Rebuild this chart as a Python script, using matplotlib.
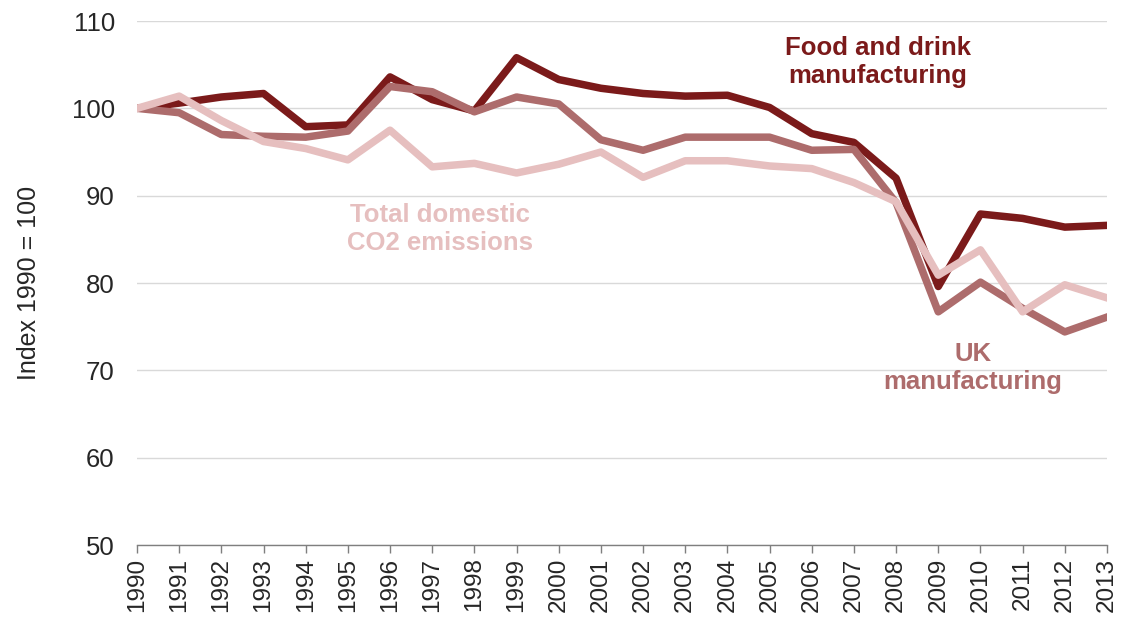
import matplotlib.pyplot as plt

years = list(range(1990, 2014))

food_drink = [100.0, 100.6, 101.3, 101.7, 97.9, 98.1, 103.6, 101.0, 99.7, 105.8,
              103.3, 102.3, 101.7, 101.4, 101.5, 100.1, 97.1, 96.1, 92.0, 79.6,
              87.9, 87.4, 86.4, 86.6]
uk_manuf = [100.0, 99.5, 97.0, 96.8, 96.7, 97.4, 102.5, 101.9, 99.6, 101.3,
            100.5, 96.4, 95.2, 96.7, 96.7, 96.7, 95.2, 95.3, 89.2, 76.7,
            80.1, 77.1, 74.4, 76.1]
total_co2 = [100.0, 101.4, 98.6, 96.2, 95.4, 94.1, 97.5, 93.3, 93.7, 92.6,
             93.6, 95.0, 92.1, 94.0, 94.0, 93.4, 93.1, 91.5, 89.3, 80.9,
             83.8, 76.7, 79.8, 78.3]

yticks = [50, 60, 70, 80, 90, 100, 110]

dark = '#7b1a1a'
mid = '#ad6c6c'
light = '#e6bfbf'

plt.rcParams['font.family'] = ['Liberation Sans', 'DejaVu Sans']

fig = plt.figure(figsize=(11.22, 6.18), dpi=100)
ax = fig.add_axes([0.1221, 0.1181, 0.8645, 0.8479])

lw = 5.4
ax.plot(years, food_drink, color=dark, linewidth=lw, zorder=3)
ax.plot(years, uk_manuf, color=mid, linewidth=lw, zorder=4)
ax.plot(years, total_co2, color=light, linewidth=lw, zorder=5)

ax.set_xlim(1990, 2013)
ax.set_ylim(50, 110)
ax.set_yticks(yticks)
ax.set_xticks(years)
ax.set_xticklabels([str(y) for y in years], rotation=90)
ax.tick_params(axis='y', length=0, labelsize=18.5, labelcolor='#262626', pad=16)
ax.tick_params(axis='x', length=6, width=1, color='#7f7f7f', labelsize=17.5,
               labelcolor='#262626', pad=3)
ax.grid(axis='y', color='#d9d9d9', linewidth=1)
ax.set_axisbelow(True)
for s in ['left', 'right', 'top']:
    ax.spines[s].set_visible(False)
ax.spines['bottom'].set_color('#7f7f7f')
ax.spines['bottom'].set_linewidth(1)
ax.spines['bottom'].set_zorder(6)

ax.set_ylabel('Index 1990 = 100', fontsize=18, color='#262626', labelpad=22)

ax.text(2007.57, 105.3, 'Food and drink\nmanufacturing', color=dark, fontsize=18.5,
        fontweight='bold', ha='center', va='center', linespacing=1.2)
ax.text(1997.19, 86.2, 'Total domestic\nCO2 emissions', color=light, fontsize=18.5,
        fontweight='bold', ha='center', va='center', linespacing=1.2)
ax.text(2009.82, 70.3, 'UK\nmanufacturing', color=mid, fontsize=18.5,
        fontweight='bold', ha='center', va='center', linespacing=1.2)

fig.savefig('out.png', dpi=100)
